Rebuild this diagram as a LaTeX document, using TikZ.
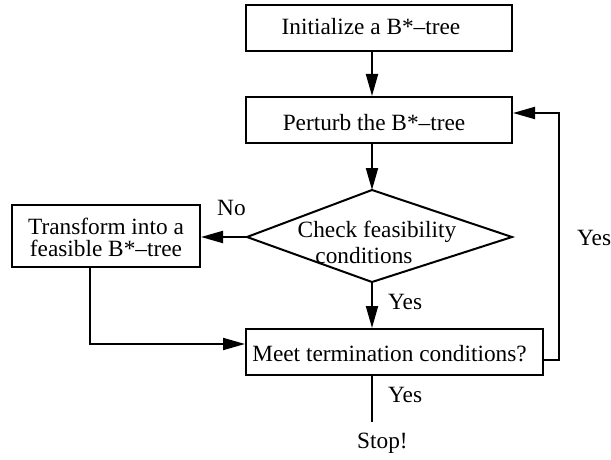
\documentclass[tikz,border=0pt]{standalone}
\usepackage{fontspec}
\setmainfont{Liberation Serif}
\usetikzlibrary{arrows.meta}
\begin{document}
\begin{tikzpicture}[x=1pt,y=-1pt,
  box/.style={draw, line width=2pt, rectangle, inner sep=0pt},
  txt/.style={inner sep=0pt, font=\fontsize{23.3}{22.4}\selectfont},
  flow/.style={line width=2pt, line join=miter, -{Triangle[length=22pt,width=12pt]}},
  plain/.style={line width=2pt}]
\useasboundingbox (0,0) rectangle (611,460);

% helper coordinates for the main axis and the bends
\coordinate (ax) at (372,0);
\coordinate (tx) at (90,0);
\coordinate (my) at (0,344);
\coordinate (ry) at (0,360);
\coordinate (rx) at (559,0);
\coordinate (py) at (0,113);
\coordinate (stopend) at (372,422);

% boxes
\node[box, minimum width=266pt, minimum height=46pt] (init) at (379,28) {};
\node[box, minimum width=266pt, minimum height=46pt] (perturb) at (379,120) {};
\node[box, minimum width=188pt, minimum height=62pt] (transform) at (106,236) {};
\node[box, minimum width=297pt, minimum height=46pt] (meet) at (394.5,352) {};

% decision diamond
\coordinate (dtop) at (372,190);
\coordinate (dright) at (512,237);
\coordinate (dbot) at (372,282);
\coordinate (dleft) at (247,237);
\draw[plain, line join=miter] (dtop) -- (dright) -- (dbot) -- (dleft) -- cycle;

% texts
\node[txt, anchor=base] (initT) at (371,35) {Initialize a B*–tree};
\node[txt, anchor=base] (perturbT) at (374,130) {Perturb the B*–tree};
\node[txt, anchor=base] (chk1) at (377,237) {Check feasibility};
\node[txt, anchor=base] (chk2) at (364,263) {conditions};
\node[txt, align=center] (transformT) at (106,237.5) {Transform into a\\feasible B*–tree};
\node[txt, anchor=base] (meetT) at (389.5,361) {Meet termination conditions?};

% connectors
\draw[flow] (init.south -| ax) -- (perturb.north -| ax);
\draw[flow] (perturb.south -| ax) -- (dtop);
\draw[flow] (dleft) -- (transform.east |- dleft);
\draw[flow] (dbot) -- (meet.north -| ax);
\draw[flow] (transform.south -| tx) |- (meet.west |- my);
\draw[flow] (meet.east |- ry) -| (rx |- py) -- (perturb.east |- py);
\draw[plain] (meet.south -| ax) -- (stopend);

% connector labels
\node[txt, anchor=base west] (noL) at (217,215) {No};
\node[txt, anchor=base west] (yesA) at (388,309) {Yes};
\node[txt, anchor=base west] (yesB) at (577,245) {Yes};
\node[txt, anchor=base west] (yesC) at (388,402) {Yes};
\node[txt, anchor=base west] (stop) at (357,448) {Stop!};
\end{tikzpicture}
\end{document}
